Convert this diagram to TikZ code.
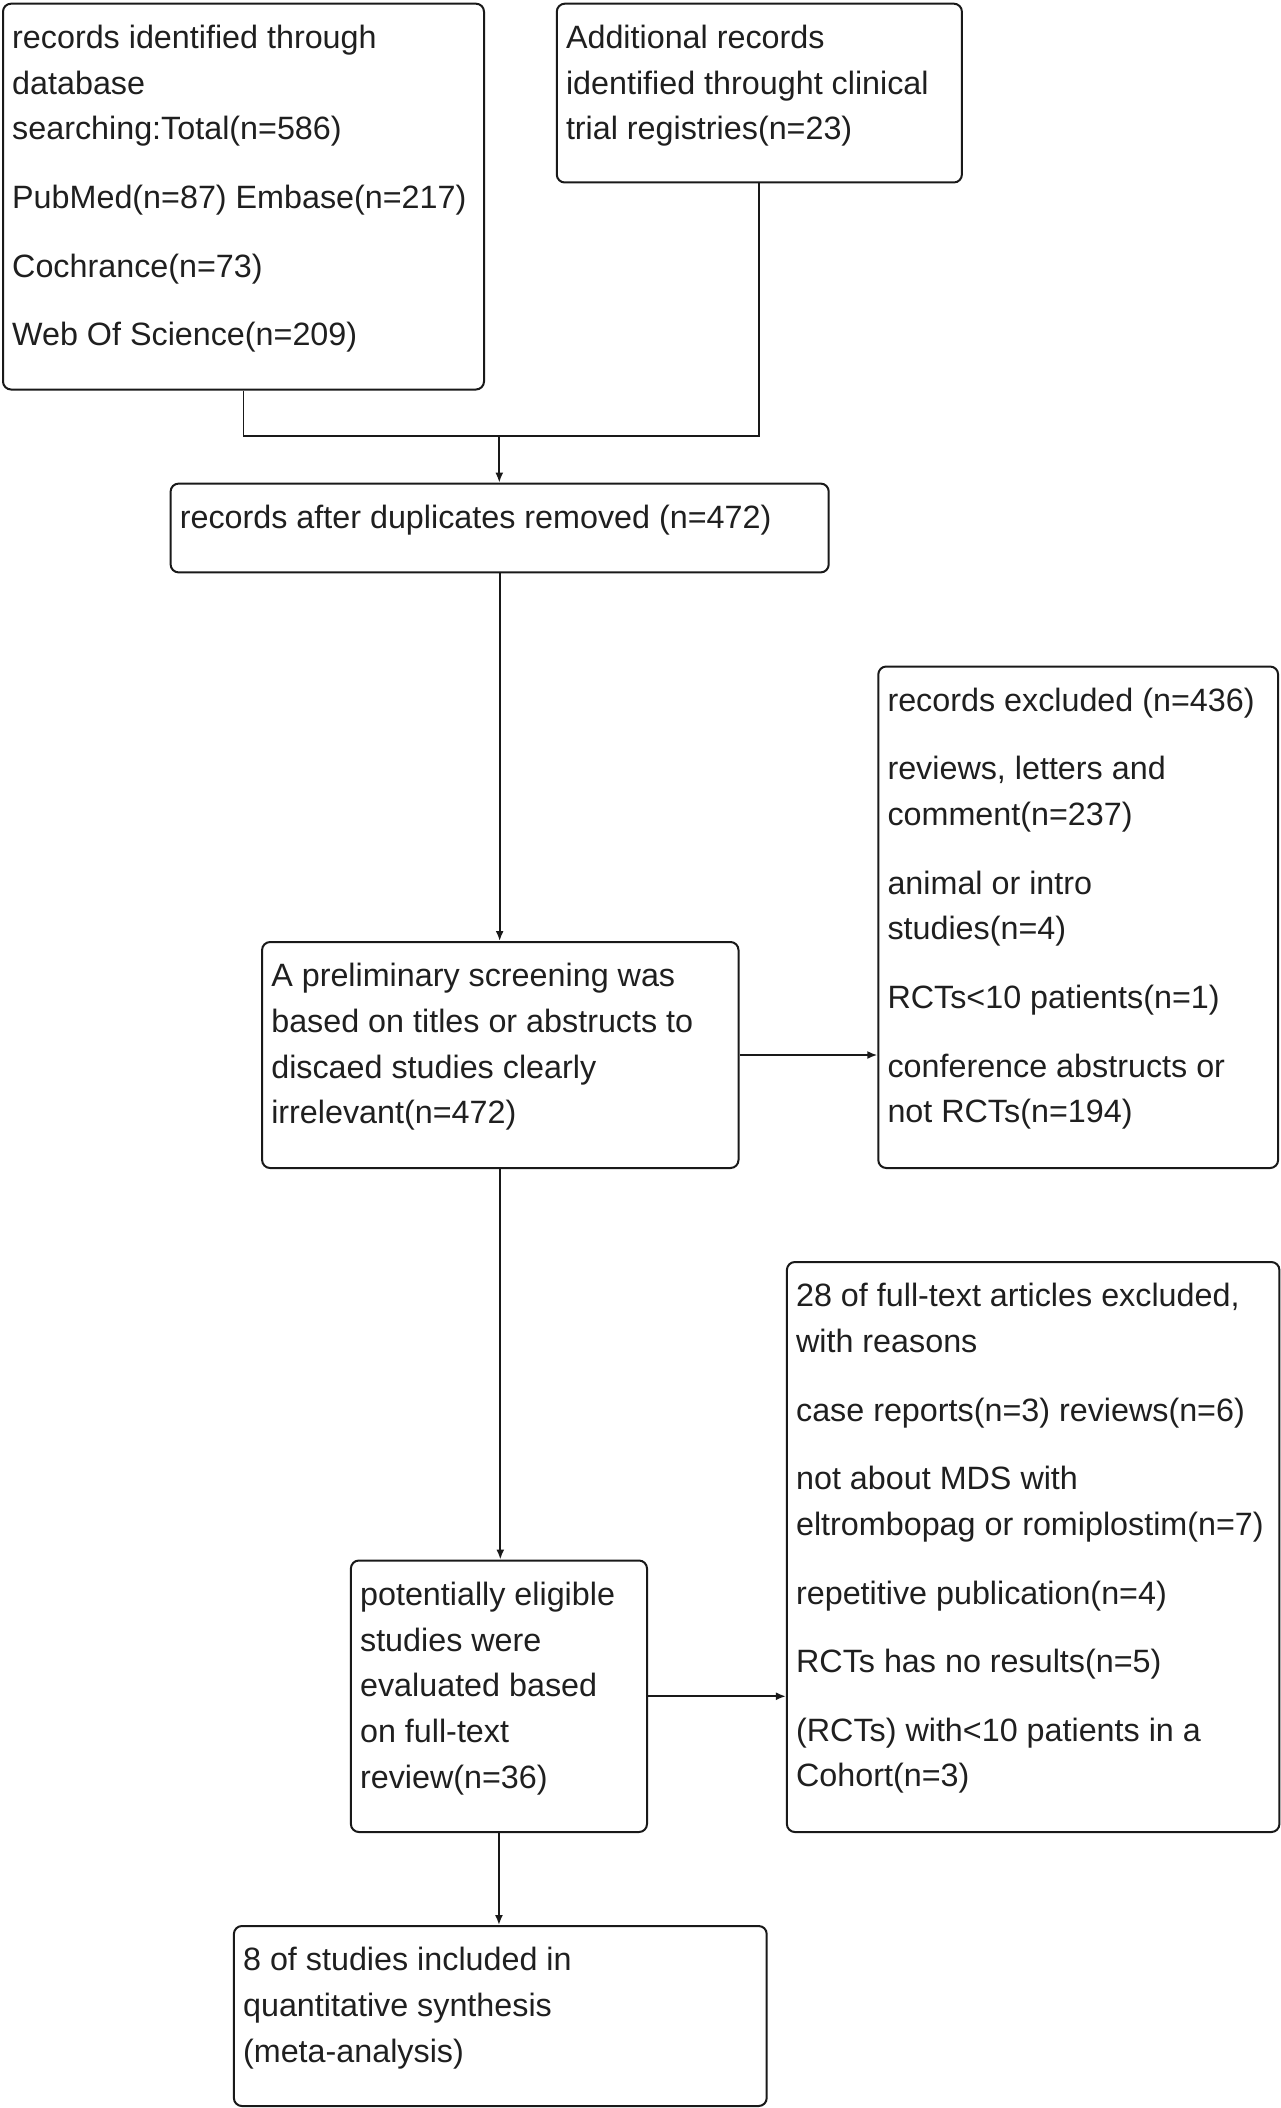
\documentclass[tikz,border=0pt]{standalone}
\usepackage{fontspec}
\setmainfont{Liberation Sans}
\usetikzlibrary{arrows.meta}
\newcommand\boxstrut{\rule{0pt}{30pt}}
\newcommand\pgap{\\[22.9pt]}
\begin{document}
\begin{tikzpicture}[x=1pt,y=1pt,
  box/.style={draw=black!90, line width=2pt, rounded corners=8pt, inner sep=0pt, anchor=north west},
  txt/.style={anchor=north west, inner sep=0pt, align=left, font=\fontsize{32.3}{45.7}\selectfont, text=black!88},
  conn/.style={line width=1.8pt, draw=black!90},
  arr/.style={conn, -{Latex[length=10pt,width=8pt]}}]
\useasboundingbox (0,0) rectangle (1281,-2108);

% boxes
\node[box, minimum width=481pt, minimum height=385.8pt] (b1) at (2,-2.7) {};
\node[box, minimum width=405.1pt, minimum height=178.8pt] (b2) at (555.8,-2.7) {};
\node[box, minimum width=658.1pt, minimum height=88.8pt] (b3) at (169.6,-482.6) {};
\node[box, minimum width=476.4pt, minimum height=226pt] (b4) at (261.1,-941) {};
\node[box, minimum width=399.8pt, minimum height=501.5pt] (b5) at (877.3,-665.5) {};
\node[box, minimum width=296.1pt, minimum height=271.5pt] (b6) at (349.9,-1559.5) {};
\node[box, minimum width=492.5pt, minimum height=570pt] (b7) at (785.9,-1261) {};
\node[box, minimum width=532.8pt, minimum height=180pt] (b8) at (232.9,-1925) {};

% texts
\node[txt] (t1) at ([xshift=10pt,yshift=-15.6pt]b1.north west) {\boxstrut records identified through\\ database\\ searching:Total(n=586)\pgap PubMed(n=87) Embase(n=217)\pgap Cochrance(n=73)\pgap Web Of Science(n=209)};
\node[txt] (t2) at ([xshift=10pt,yshift=-15.6pt]b2.north west) {\boxstrut Additional records\\ identified throught clinical\\ trial registries(n=23)};
\node[txt] (t3) at ([xshift=10pt,yshift=-15.6pt]b3.north west) {\boxstrut records after duplicates removed (n=472)};
\node[txt] (t4) at ([xshift=10pt,yshift=-15.6pt]b4.north west) {\boxstrut A preliminary screening was\\ based on titles or abstructs to\\ discaed studies clearly\\ irrelevant(n=472)};
\node[txt] (t5) at ([xshift=10pt,yshift=-15.6pt]b5.north west) {\boxstrut records excluded (n=436)\pgap reviews, letters and\\ comment(n=237)\pgap animal or intro\\ studies(n=4)\pgap RCTs<10 patients(n=1)\pgap conference abstructs or\\ not RCTs(n=194)};
\node[txt] (t6) at ([xshift=10pt,yshift=-15.6pt]b6.north west) {\boxstrut potentially eligible\\ studies were\\ evaluated based\\ on full-text\\ review(n=36)};
\node[txt] (t7) at ([xshift=10pt,yshift=-15.6pt]b7.north west) {\boxstrut 28 of full-text articles excluded,\\ with reasons\pgap case reports(n=3) reviews(n=6)\pgap not about MDS with\\ eltrombopag or romiplostim(n=7)\pgap repetitive publication(n=4)\pgap RCTs has no results(n=5)\pgap (RCTs) with<10 patients in a\\ Cohort(n=3)};
\node[txt] (t8) at ([xshift=10pt,yshift=-15.6pt]b8.north west) {\boxstrut 8 of studies included in\\ quantitative synthesis\\ (meta-analysis)};

% connectors
\coordinate (j) at (499.3,-435.6);
\draw[conn] (b1.south) |- (j);
\draw[conn] (b2.south) |- (j);
\draw[arr] (j) -- (j |- b3.north);
\draw[arr] (b3.south) -- (b3.south |- b4.north);
\draw[arr] (b4.east) -- (b4.east -| b5.west);
\draw[arr] (b4.south) -- (b4.south |- b6.north);
\draw[arr] (b6.east) -- (b6.east -| b7.west);
\draw[arr] (b6.south) -- (b6.south |- b8.north);
\end{tikzpicture}
\end{document}
